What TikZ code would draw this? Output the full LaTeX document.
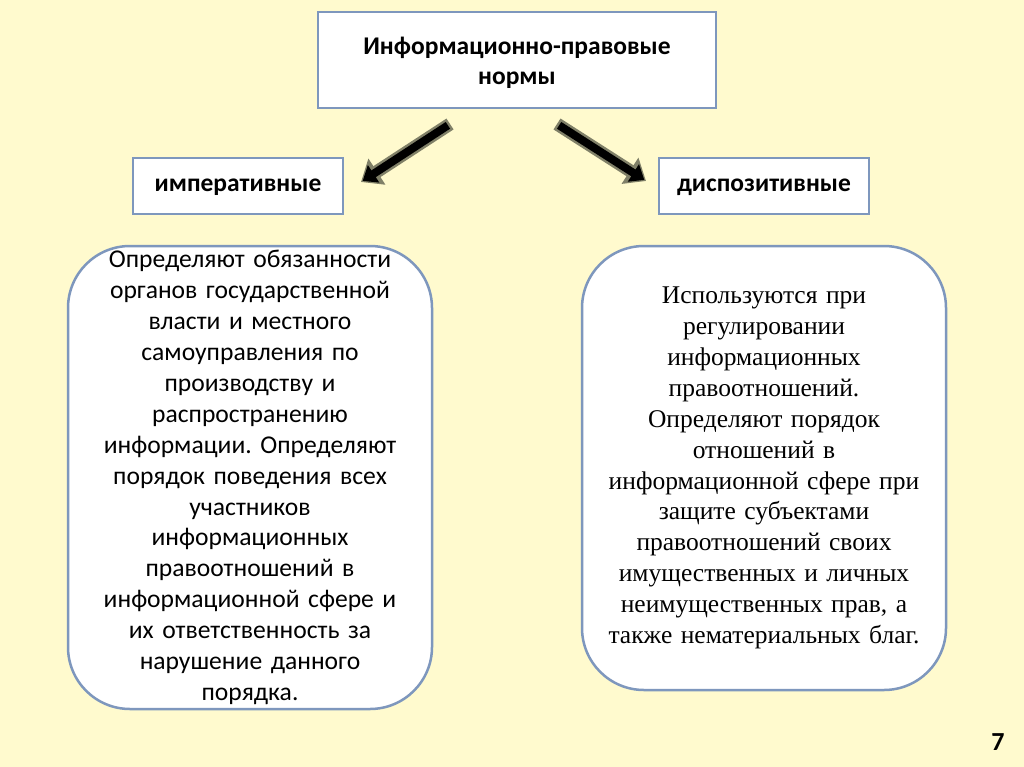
\documentclass[tikz,border=0pt]{standalone}
\usepackage{fontspec}
\setmainfont{Carlito}
\newfontfamily\serifru{Liberation Serif}
\usetikzlibrary{arrows.meta}
\definecolor{bgyellow}{RGB}{255,250,206}
\definecolor{boxline}{RGB}{126,151,189}
\definecolor{arrowedge}{RGB}{128,128,104}
\frenchspacing
\tikzset{
  plainbox/.style={draw=boxline, line width=2pt, fill=white, inner sep=0pt, align=center},
  roundbox/.style={draw=boxline, line width=2.5pt, fill=white, rounded corners=62pt, inner sep=0pt, align=center},
  arrowback/.style={draw=arrowedge, line width=13pt, -{Triangle[length=19pt,width=30pt]}, arrowedge},
  arrowfront/.style={draw=black, line width=8pt, -{Triangle[length=13pt,width=20pt]}, black, shorten >=2pt, shorten <=2.5pt},
  headfont/.style={font=\bfseries\fontsize{25.5}{30}\selectfont},
  bodyfont/.style={font=\fontsize{25.6}{30.9}\selectfont},
  seriffont/.style={font=\serifru\fontsize{25.5}{30.9}\selectfont}
}
\begin{document}
\begin{tikzpicture}[x=1pt,y=-1pt]
\fill[bgyellow] (0,0) rectangle (1024,767);
\useasboundingbox (0,0) rectangle (1024,767);

\node[plainbox, minimum width=398pt, minimum height=96pt] (top) at (517,60) {};
\node[headfont, align=center, inner sep=0pt] (toptext) at (517,63) {Информационно-правовые\\нормы};
\node[plainbox, headfont, text height=18pt, text depth=6pt, minimum width=210pt, minimum height=56pt] (imp) at (238,186) {императивные};
\node[plainbox, headfont, text height=18pt, text depth=6pt, minimum width=210pt, minimum height=56pt] (disp) at (764,186) {диспозитивные};

\node[roundbox, bodyfont, minimum width=364pt, minimum height=463pt, text width=340pt] (left) at (250,477.5) {Определяют обязанности\\органов государственной\\власти и местного\\самоуправления по\\производству и\\распространению\\информации. Определяют\\порядок поведения всех\\участников\\информационных\\правоотношений в\\информационной сфере и\\их ответственность за\\нарушение данного\\порядка.};

\node[roundbox, seriffont, minimum width=364pt, minimum height=444pt, text width=340pt] (right) at (764,468) {Используются при\\регулировании\\информационных\\правоотношений.\\Определяют порядок\\отношений в\\информационной сфере при\\защите субъектами\\правоотношений своих\\имущественных и личных\\неимущественных прав, а\\также нематериальных благ.};

\coordinate (a1s) at (450,124);
\coordinate (a1e) at (361,182);
\coordinate (a2s) at (557,124);
\coordinate (a2e) at (646,181);
\draw[arrowback] (a1s) -- (a1e);
\draw[arrowfront] (a1s) -- (a1e);
\draw[arrowback] (a2s) -- (a2e);
\draw[arrowfront] (a2s) -- (a2e);

\node[font=\bfseries\fontsize{26}{26}\selectfont] (num) at (998,742) {7};
\end{tikzpicture}
\end{document}
